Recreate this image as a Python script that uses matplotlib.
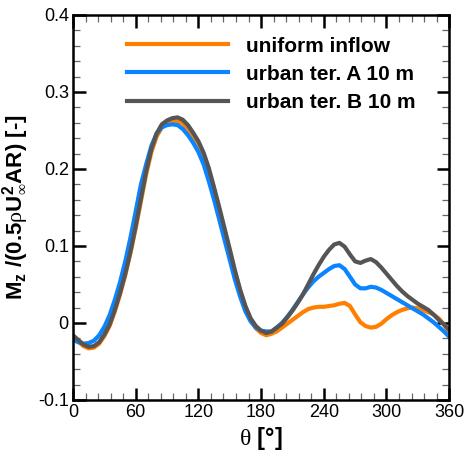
"""Yaw moment coefficient vs. wind direction for three inflow cases."""

import matplotlib
matplotlib.use("Agg")  # non-interactive backend
import matplotlib.pyplot as plt
from matplotlib.ticker import MultipleLocator, FuncFormatter

plt.rcParams["font.family"] = "Liberation Sans"
plt.rcParams["axes.unicode_minus"] = False
plt.rcParams["mathtext.fontset"] = "custom"
plt.rcParams["mathtext.rm"] = "Liberation Serif"
plt.rcParams["mathtext.bf"] = "Liberation Sans:bold"
plt.rcParams["mathtext.it"] = "Liberation Sans:italic"

# wind direction [deg], every 5 degrees
theta = list(range(0, 361, 5))

uniform = [
    -0.018, -0.024, -0.030, -0.033, -0.032, -0.027, -0.017, -0.004, 0.015, 0.037,
    0.062, 0.091, 0.123, 0.158, 0.193, 0.222, 0.242, 0.254, 0.259, 0.262,
    0.262, 0.259, 0.252, 0.243, 0.232, 0.217, 0.197, 0.173, 0.147, 0.120,
    0.093, 0.066, 0.041, 0.020, 0.004, -0.007, -0.013, -0.016, -0.014, -0.011,
    -0.006, -0.001, 0.004, 0.009, 0.014, 0.018, 0.020, 0.021, 0.021, 0.022,
    0.023, 0.025, 0.026, 0.022, 0.011, 0.001, -0.004, -0.006, -0.005, -0.001,
    0.005, 0.010, 0.014, 0.017, 0.019, 0.020, 0.019, 0.017, 0.014, 0.011,
    0.006, -0.002, -0.012,
]

urban_a = [
    -0.022, -0.025, -0.027, -0.026, -0.023, -0.016, -0.005, 0.010, 0.030, 0.053,
    0.080, 0.111, 0.145, 0.180, 0.206, 0.230, 0.246, 0.254, 0.257, 0.258,
    0.257, 0.252, 0.244, 0.234, 0.222, 0.206, 0.184, 0.160, 0.134, 0.108,
    0.082, 0.056, 0.034, 0.015, 0.002, -0.006, -0.010, -0.011, -0.011, -0.006,
    0.000, 0.008, 0.017, 0.027, 0.037, 0.046, 0.054, 0.060, 0.065, 0.070,
    0.074, 0.075, 0.070, 0.060, 0.050, 0.045, 0.045, 0.047, 0.046, 0.043,
    0.039, 0.035, 0.031, 0.027, 0.023, 0.019, 0.015, 0.011, 0.006, 0.001,
    -0.005, -0.011, -0.018,
]

urban_b = [
    -0.016, -0.022, -0.028, -0.031, -0.030, -0.025, -0.015, -0.002, 0.017, 0.039,
    0.064, 0.093, 0.126, 0.162, 0.197, 0.226, 0.246, 0.258, 0.263, 0.266,
    0.267, 0.264, 0.257, 0.247, 0.236, 0.221, 0.201, 0.176, 0.150, 0.123,
    0.096, 0.068, 0.043, 0.022, 0.006, -0.004, -0.010, -0.013, -0.011, -0.006,
    -0.001, 0.007, 0.016, 0.026, 0.037, 0.050, 0.063, 0.075, 0.086, 0.095,
    0.102, 0.104, 0.099, 0.089, 0.080, 0.078, 0.081, 0.083, 0.079, 0.072,
    0.064, 0.056, 0.048, 0.041, 0.035, 0.030, 0.025, 0.021, 0.017, 0.011,
    0.004, -0.002, -0.009,
]

fig = plt.figure(figsize=(4.65, 4.54), dpi=100)
ax = fig.add_axes([0.157, 0.119, 0.809, 0.848])

ax.plot(theta, uniform, color="#ff8000", linewidth=3, label="uniform inflow")
ax.plot(theta, urban_a, color="#0a84ff", linewidth=3, label="urban ter. A 10 m")
ax.plot(theta, urban_b, color="#555555", linewidth=3, label="urban ter. B 10 m")

ax.set_xlim(0, 360)
ax.set_ylim(-0.1, 0.4)
ax.xaxis.set_major_locator(MultipleLocator(60))
ax.xaxis.set_minor_locator(MultipleLocator(12))
ax.yaxis.set_major_locator(MultipleLocator(0.1))
ax.yaxis.set_minor_locator(MultipleLocator(0.02))
ax.yaxis.set_major_formatter(FuncFormatter(lambda v, p: f"{v:g}"))

ax.tick_params(which="both", direction="in", top=True, right=True, labelsize=13)
ax.tick_params(which="major", length=9, width=1.8, pad=3)
ax.tick_params(which="minor", length=5, width=0.9, color="#666666")
for sp in ax.spines.values():
    sp.set_linewidth(1.8)

ax.set_xlabel(r"$\mathrm{\theta}$ [°]", fontsize=17, fontweight="bold", labelpad=3)
ax.set_ylabel(
    r"$\mathbf{M}_{\mathbf{z}}$ /(0.5$\mathrm{\rho}\mathbf{U}_{\mathrm{\infty}}^{\mathbf{2}}$AR) [-]",
    fontsize=16, fontweight="bold", labelpad=6,
)

leg = ax.legend(
    loc="upper left", bbox_to_anchor=(0.1436, 0.944), frameon=False,
    prop={"size": 15, "weight": "bold"}, handlelength=4.85, handletextpad=0.85,
    labelspacing=0.44, borderpad=0, borderaxespad=0,
)

fig.savefig("out.png", dpi=100)
